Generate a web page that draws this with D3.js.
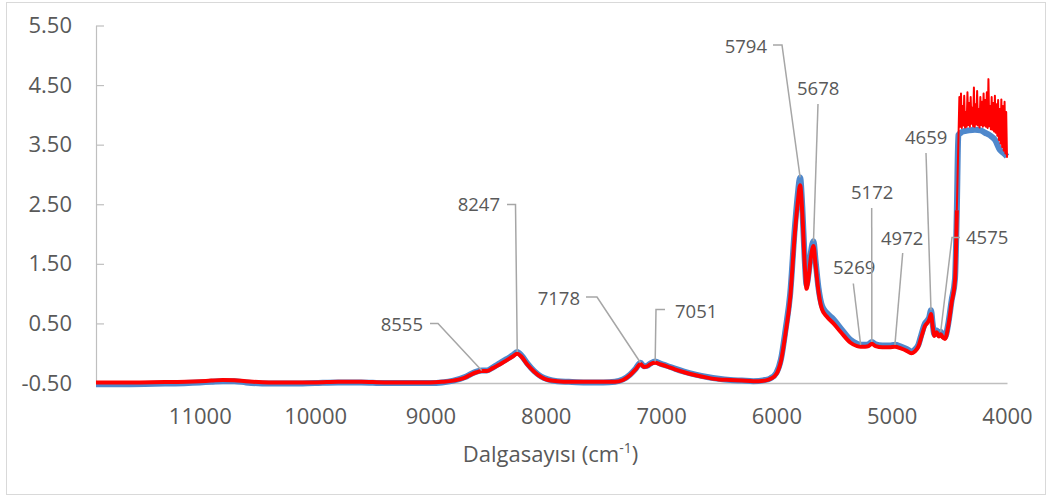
<!DOCTYPE html>
<html>
<head>
<meta charset="utf-8">
<script src="https://cdn.jsdelivr.net/npm/d3@7"></script>
<style>
  html, body { margin: 0; padding: 0; background: #fff; }
  svg { display: block; font-family: "Open Sans", sans-serif; }
</style>
</head>
<body>
<svg id="chart" width="1051" height="499"></svg>
<script>
// NIR spectra: wavenumber grid (cm-1, descending) shared by both spectra
const wavenumbers = [
  11900, 11600, 11300, 11000, 10900, 10800, 10700, 10600, 10400, 10200,
  10000, 9800, 9600, 9400, 9200, 9000, 8900, 8800, 8700, 8640,
  8600, 8555, 8510, 8460, 8400, 8340, 8290, 8247, 8210, 8160,
  8100, 8040, 7980, 7900, 7800, 7650, 7500, 7400, 7330, 7270,
  7220, 7178, 7150, 7120, 7090, 7051, 7000, 6950, 6880, 6800,
  6700, 6600, 6500, 6400, 6300, 6200, 6100, 6050, 6000, 5960,
  5920, 5880, 5840, 5815, 5794, 5775, 5755, 5738, 5720, 5700,
  5678, 5660, 5635, 5605, 5565, 5505, 5435, 5360, 5300, 5269,
  5230, 5200, 5172, 5140, 5080, 5020, 4972, 4920, 4870, 4830,
  4800, 4769, 4740, 4711, 4690, 4675, 4659, 4645, 4630, 4610,
  4590, 4575, 4555, 4538, 4509, 4480, 4451, 4435, 4422, 4400,
  4382, 4330, 4278, 4230, 4191, 4150, 4104, 4061, 4030, 4000
];

// Blue spectrum absorbance
const blueAbs = [
  -0.52, -0.52, -0.51, -0.49, -0.48, -0.47, -0.47, -0.49, -0.51, -0.51,
  -0.50, -0.49, -0.49, -0.50, -0.50, -0.50, -0.49, -0.46, -0.40, -0.34,
  -0.31, -0.29, -0.29, -0.24, -0.17, -0.10, -0.04, 0.02, -0.04, -0.17,
  -0.30, -0.39, -0.44, -0.47, -0.48, -0.49, -0.49, -0.48, -0.44, -0.36,
  -0.26, -0.16, -0.22, -0.21, -0.17, -0.14, -0.18, -0.21, -0.26, -0.31,
  -0.36, -0.40, -0.43, -0.45, -0.46, -0.47, -0.45, -0.42, -0.33, -0.10,
  0.40, 1.00, 2.10, 2.65, 2.95, 2.45, 1.60, 1.15, 1.35, 1.70,
  1.88, 1.55, 1.10, 0.80, 0.68, 0.57, 0.40, 0.23, 0.16, 0.14,
  0.14, 0.15, 0.19, 0.15, 0.13, 0.13, 0.14, 0.11, 0.07, 0.03,
  0.06, 0.14, 0.33, 0.50, 0.55, 0.60, 0.72, 0.50, 0.32, 0.38,
  0.31, 0.36, 0.29, 0.27, 0.50, 0.89, 1.25, 2.40, 3.66, 3.70,
  3.72, 3.74, 3.75, 3.74, 3.70, 3.66, 3.58, 3.41, 3.36, 3.30
];

// Red spectrum absorbance on the same grid, down to 4435 cm-1
const redAbs = [
  -0.49, -0.49, -0.485, -0.47, -0.46, -0.45, -0.455, -0.47, -0.49, -0.49,
  -0.49, -0.48, -0.48, -0.49, -0.49, -0.49, -0.48, -0.46, -0.41, -0.35,
  -0.32, -0.30, -0.30, -0.25, -0.19, -0.12, -0.06, -0.01, -0.06, -0.19,
  -0.31, -0.40, -0.45, -0.47, -0.48, -0.48, -0.48, -0.48, -0.45, -0.37,
  -0.27, -0.18, -0.23, -0.22, -0.18, -0.16, -0.19, -0.22, -0.27, -0.32,
  -0.37, -0.41, -0.44, -0.45, -0.46, -0.47, -0.46, -0.43, -0.35, -0.13,
  0.34, 0.93, 2.00, 2.52, 2.82, 2.35, 1.52, 1.08, 1.28, 1.62,
  1.80, 1.48, 1.04, 0.74, 0.62, 0.50, 0.34, 0.18, 0.12, 0.11,
  0.11, 0.12, 0.16, 0.12, 0.10, 0.10, 0.11, 0.08, 0.04, 0.00,
  0.03, 0.11, 0.29, 0.46, 0.51, 0.56, 0.66, 0.46, 0.29, 0.35,
  0.28, 0.32, 0.26, 0.24, 0.46, 0.85, 1.22, 2.40
];

// Red spectrum in the saturated band (noisy detector region)
const redNoiseWn = [
  4420, 4413, 4406, 4399, 4392, 4385, 4378, 4371, 4364, 4357,
  4350, 4343, 4336, 4329, 4322, 4315, 4308, 4301, 4294, 4287,
  4280, 4273, 4266, 4259, 4252, 4245, 4238, 4231, 4224, 4217,
  4210, 4203, 4196, 4189, 4182, 4175, 4168, 4161, 4154, 4147,
  4140, 4133, 4126, 4119, 4112, 4105, 4098, 4091, 4084, 4077,
  4070, 4063, 4056, 4049, 4042, 4035, 4028, 4021, 4014, 4007, 4000
];
const redNoiseAbs = [
  3.70, 4.30, 3.80, 4.36, 3.78, 4.15, 3.82, 4.32, 3.79, 4.05,
  3.80, 4.38, 3.83, 4.20, 3.80, 4.30, 3.85, 4.12, 3.81, 4.46,
  3.80, 4.18, 3.84, 4.40, 3.82, 4.10, 3.79, 4.30, 3.83, 4.22,
  3.80, 4.36, 3.82, 4.25, 3.80, 4.38, 3.78, 4.60, 3.81, 4.15,
  3.76, 4.30, 3.75, 4.20, 3.72, 4.32, 3.70, 4.18, 3.65, 4.25,
  3.58, 4.10, 3.52, 4.26, 3.46, 4.15, 3.40, 4.22, 3.35, 4.05, 3.28
];

// Axis ticks
const xTicks = [11000, 10000, 9000, 8000, 7000, 6000, 5000, 4000];
const yTicks = [-0.5, 0.5, 1.5, 2.5, 3.5, 4.5, 5.5];

// Annotated band positions (cm-1)
const peakLabels = [8555, 8247, 7178, 7051, 5794, 5678, 5269, 5172, 4972, 4659, 4575];

// Placement of each band label and the bend points of its leader line
const labelLayout = {
  8555: { tx: 423, ty: 325,   anchor: "end",   bend: [[430, 323.5], [438, 323.5]] },
  8247: { tx: 500, ty: 205,   anchor: "end",   bend: [[507, 204.5], [515.5, 204.5]] },
  7178: { tx: 580, ty: 298.5, anchor: "end",   bend: [[586, 297], [597, 297]] },
  7051: { tx: 675, ty: 311.5, anchor: "start", bend: [[665, 309.5], [656, 309.5]] },
  5794: { tx: 767, ty: 46.5,  anchor: "end",   bend: [[773, 45], [782, 45]] },
  5678: { tx: 797, ty: 88.5,  anchor: "start", bend: [[818, 104]] },
  5269: { tx: 833, ty: 268,   anchor: "start", bend: [[853.3, 283.5]] },
  5172: { tx: 851, ty: 192.5, anchor: "start", bend: [[871.7, 208]] },
  4972: { tx: 881, ty: 238.5, anchor: "start", bend: [[902.7, 253]] },
  4659: { tx: 905, ty: 137.5, anchor: "start", bend: [[926, 153]] },
  4575: { tx: 966, ty: 238,   anchor: "start", bend: [[960, 237.5], [952, 237.5]] }
};

const textColor = "#595959";
const axisColor = "#BFBFBF";
const leaderColor = "#A6A6A6";
const fontFamily = "'Open Sans', sans-serif";

const svg = d3.select("#chart");

// chart frame
svg.append("rect")
  .attr("x", 6.5).attr("y", 2.5)
  .attr("width", 1039).attr("height", 492)
  .attr("fill", "#fff").attr("stroke", "#D9D9D9").attr("stroke-width", 1);

const x = d3.scaleLinear().domain([11900, 4000]).range([96, 1007]);
const y = d3.scaleLinear().domain([-0.5, 5.5]).range([383, 25.5]);

// y axis: ticks point into the plot
const yAxisG = svg.append("g")
  .attr("transform", "translate(96,0)")
  .call(d3.axisLeft(y)
    .tickValues(yTicks)
    .tickFormat(d => d.toFixed(2))
    .tickSizeInner(-8)
    .tickSizeOuter(0)
    .tickPadding(24));
yAxisG.select(".domain").attr("stroke", axisColor).attr("stroke-width", 1.2);
yAxisG.selectAll(".tick line").attr("stroke", axisColor).attr("stroke-width", 1.2);
yAxisG.selectAll(".tick text")
  .attr("fill", textColor)
  .style("font-family", fontFamily)
  .style("font-size", "22px");

// x axis (reversed wavenumber scale)
const xAxisG = svg.append("g")
  .attr("transform", "translate(0,383)")
  .call(d3.axisBottom(x)
    .tickValues(xTicks)
    .tickFormat(d => String(d))
    .tickSize(0)
    .tickPadding(25));
xAxisG.select(".domain").attr("stroke", axisColor).attr("stroke-width", 1.5);
xAxisG.selectAll(".tick text")
  .attr("fill", textColor)
  .style("font-family", fontFamily)
  .style("font-size", "22px");

// x axis title with superscript
const title = svg.append("text")
  .attr("x", 550.5).attr("y", 462)
  .attr("text-anchor", "middle")
  .attr("fill", textColor)
  .style("font-family", fontFamily)
  .style("font-size", "22px");
title.append("tspan").text("Dalgasayısı (cm");
title.append("tspan").attr("dy", -9).style("font-size", "14px").text("-1");
title.append("tspan").attr("dy", 9).text(")");

// spectra
const line = d3.line()
  .x(d => x(d[0]))
  .y(d => y(d[1]))
  .curve(d3.curveMonotoneX);
const rawLine = d3.line()
  .x(d => x(d[0]))
  .y(d => y(d[1]));

const blueData = wavenumbers.map((w, i) => [w, blueAbs[i]]);
const redData = redAbs.map((v, i) => [wavenumbers[i], v]);
const redNoise = [redData[redData.length - 1]].concat(redNoiseWn.map((w, i) => [w, redNoiseAbs[i]]));

svg.append("path")
  .datum(blueData)
  .attr("d", line)
  .attr("fill", "none")
  .attr("stroke", "#4F88CC")
  .attr("stroke-width", 6)
  .attr("stroke-linejoin", "round");

svg.append("path")
  .datum(redData)
  .attr("d", line)
  .attr("fill", "none")
  .attr("stroke", "#FF0000")
  .attr("stroke-width", 4)
  .attr("stroke-linejoin", "round");

svg.append("path")
  .datum(redNoise)
  .attr("d", rawLine)
  .attr("fill", "none")
  .attr("stroke", "#FF0000")
  .attr("stroke-width", 2)
  .attr("stroke-linejoin", "round");

// absorbance of the blue spectrum at a given wavenumber
function valueAt(wn) {
  for (let i = 0; i < wavenumbers.length - 1; i++) {
    const a = wavenumbers[i], b = wavenumbers[i + 1];
    if (wn <= a && wn >= b) {
      const t = (a - wn) / (a - b);
      return blueAbs[i] + t * (blueAbs[i + 1] - blueAbs[i]);
    }
  }
  return blueAbs[blueAbs.length - 1];
}

// band labels with leader lines
const ann = svg.append("g");
peakLabels.forEach(wn => {
  const L = labelLayout[wn];
  const pts = L.bend.concat([[x(wn), y(valueAt(wn))]]);
  ann.append("path")
    .attr("d", d3.line()(pts))
    .attr("fill", "none")
    .attr("stroke", leaderColor)
    .attr("stroke-width", 1.5);
  ann.append("text")
    .attr("x", L.tx).attr("y", L.ty)
    .attr("dy", "0.35em")
    .attr("text-anchor", L.anchor)
    .attr("fill", textColor)
    .style("font-family", fontFamily)
    .style("font-size", "18.5px")
    .text(String(wn));
});
</script>
</body>
</html>
